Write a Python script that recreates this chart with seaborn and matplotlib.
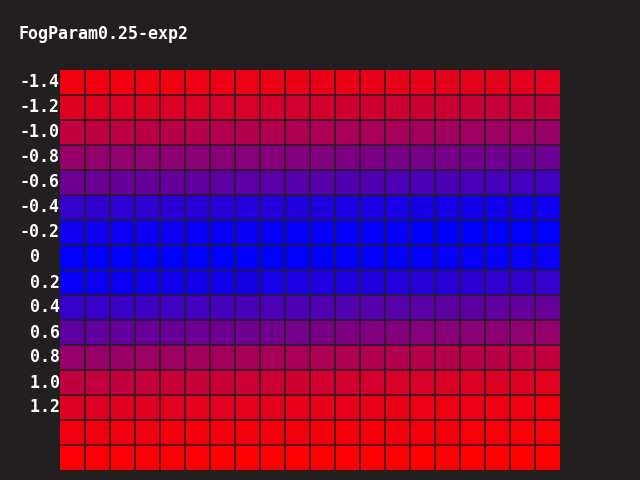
import numpy as np
import pandas as pd
import matplotlib
matplotlib.use("Agg")
import matplotlib.pyplot as plt
from matplotlib.colors import LinearSegmentedColormap
import seaborn as sns

title = "FogParam0.25-exp2"
row_labels = ["-1.4", "-1.2", "-1.0", "-0.8", "-0.6", "-0.4", "-0.2", "0",
              "0.2", "0.4", "0.6", "0.8", "1.0", "1.2", "", ""]

# red fraction of each cell (0 = blue, 1 = red)
row_00 = [0.94,0.94,0.94,0.93,0.93,0.93,0.92,0.92,0.92,0.91,0.91,0.91,0.90,0.90,0.90,0.89,0.89,0.89,0.88,0.88]
row_01 = [0.87,0.87,0.86,0.86,0.85,0.85,0.84,0.84,0.83,0.82,0.82,0.81,0.81,0.80,0.79,0.79,0.78,0.77,0.77,0.76]
row_02 = [0.75,0.74,0.74,0.73,0.72,0.71,0.70,0.70,0.69,0.68,0.67,0.66,0.66,0.65,0.64,0.63,0.62,0.62,0.61,0.60]
row_03 = [0.59,0.58,0.57,0.56,0.55,0.54,0.53,0.52,0.52,0.51,0.50,0.49,0.48,0.47,0.46,0.46,0.45,0.44,0.43,0.42]
row_04 = [0.43,0.42,0.41,0.40,0.39,0.38,0.37,0.36,0.35,0.34,0.33,0.32,0.31,0.30,0.29,0.29,0.28,0.27,0.26,0.25]
row_05 = [0.20,0.19,0.18,0.18,0.17,0.16,0.15,0.14,0.14,0.13,0.12,0.11,0.11,0.10,0.09,0.09,0.08,0.07,0.07,0.06]
row_06 = [0.06,0.06,0.05,0.05,0.05,0.04,0.04,0.04,0.03,0.03,0.03,0.02,0.02,0.02,0.01,0.01,0.01,0.00,0.00,0.00]
row_07 = [0.00,0.00,0.00,0.00,0.00,0.00,0.00,0.01,0.01,0.01,0.01,0.02,0.02,0.02,0.02,0.03,0.03,0.03,0.04,0.04]
row_08 = [0.04,0.05,0.05,0.06,0.07,0.08,0.08,0.09,0.10,0.11,0.12,0.12,0.13,0.14,0.15,0.16,0.17,0.18,0.19,0.20]
row_09 = [0.21,0.22,0.23,0.24,0.25,0.26,0.27,0.28,0.29,0.30,0.31,0.32,0.33,0.34,0.35,0.36,0.37,0.38,0.39,0.40]
row_10 = [0.37,0.38,0.39,0.40,0.41,0.42,0.43,0.44,0.45,0.46,0.48,0.49,0.50,0.51,0.52,0.53,0.54,0.55,0.56,0.58]
row_11 = [0.58,0.59,0.60,0.61,0.62,0.63,0.64,0.65,0.66,0.66,0.67,0.68,0.69,0.70,0.71,0.71,0.72,0.73,0.74,0.75]
row_12 = [0.75,0.76,0.76,0.77,0.78,0.78,0.79,0.80,0.80,0.81,0.82,0.82,0.83,0.84,0.84,0.85,0.86,0.86,0.87,0.88]
row_13 = [0.86,0.86,0.87,0.87,0.88,0.88,0.88,0.89,0.89,0.90,0.90,0.90,0.91,0.91,0.92,0.92,0.92,0.93,0.93,0.94]
row_14 = [0.94,0.94,0.94,0.94,0.95,0.95,0.95,0.95,0.95,0.95,0.96,0.96,0.96,0.96,0.96,0.96,0.97,0.97,0.97,0.97]
row_15 = [0.98,0.98,0.98,0.98,0.98,0.98,0.99,0.99,0.99,0.99,0.99,0.99,0.99,0.99,1.00,1.00,1.00,1.00,1.00,1.00]

rows = [row_00, row_01, row_02, row_03, row_04, row_05, row_06, row_07,
        row_08, row_09, row_10, row_11, row_12, row_13, row_14, row_15]
df = pd.DataFrame(rows, index=row_labels)

bg = "#231f20"
cmap = LinearSegmentedColormap.from_list("fog", ["#0000ff", "#ff0000"])

fig = plt.figure(figsize=(6.4, 4.8), dpi=100, facecolor=bg)
ax = fig.add_axes([60/640, 1 - 470/480, 500/640, 400/480])
ax.set_facecolor(bg)
sns.heatmap(df, ax=ax, cmap=cmap, vmin=0, vmax=1, cbar=False,
            linewidths=0, xticklabels=False, yticklabels=True)

# thin separating lines between cells
n_rows, n_cols = df.shape
ax.hlines(range(1, n_rows), 0, n_cols, colors=bg, linewidth=1.1)
ax.vlines(range(1, n_cols), 0, n_rows, colors=bg, linewidth=1.1)

# labels start at a fixed left edge; positive values are shifted one character
shown = [(" " + s if (s and not s.startswith("-")) else s) for s in row_labels]
ax.set_yticklabels(shown, rotation=0)
ax.tick_params(axis="y", length=0, pad=40 * 0.72, colors="white")
for t in ax.get_yticklabels():
    t.set_fontfamily("DejaVu Sans Mono")
    t.set_fontweight("bold")
    t.set_fontsize(12)
    t.set_color("white")
    t.set_horizontalalignment("left")
ax.set_xlabel("")
ax.set_ylabel("")
for s in ax.spines.values():
    s.set_visible(False)

fig.text(19/640, 1 - 34/480, title, color="white", fontfamily="DejaVu Sans Mono",
         fontweight="bold", fontsize=12, ha="left", va="center")

fig.savefig("out.png", dpi=100, facecolor=bg)
